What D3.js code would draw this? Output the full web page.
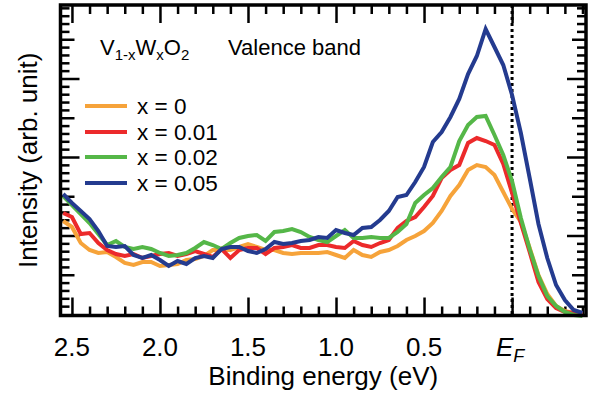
<!DOCTYPE html>
<html>
<head>
<meta charset="utf-8">
<script src="https://cdn.jsdelivr.net/npm/d3@7"></script>
<style>
  body { margin: 0; background: #fff; }
  svg text { font-family: "Liberation Sans", Arial, sans-serif; fill: #000; }
</style>
</head>
<body>
<svg id="chart"></svg>
<script>
// Canvas
const width = 591;
const height = 397;

// Binding energy grid (eV)
const energy = [
  2.55, 2.50, 2.45, 2.40, 2.35, 2.30, 2.25, 2.20, 2.15, 2.10,
  2.05, 2.00, 1.95, 1.90, 1.85, 1.80, 1.75, 1.70, 1.65, 1.60,
  1.55, 1.50, 1.45, 1.40, 1.35, 1.30, 1.25, 1.20, 1.15, 1.10,
  1.05, 1.00, 0.95, 0.90, 0.85, 0.80, 0.75, 0.70, 0.65, 0.60,
  0.55, 0.50, 0.45, 0.40, 0.35, 0.30, 0.25, 0.20, 0.15, 0.10,
  0.05, 0.00, -0.05, -0.10, -0.15, -0.20, -0.25, -0.30, -0.35, -0.40
];

// Intensity (arb. unit) for each composition
const intensityX0 = [
  96, 90, 74, 67, 64, 65, 60, 54, 52, 55,
  55, 51, 52, 53, 57, 58, 61, 67, 67, 67,
  70, 73, 70, 67, 67, 64, 63, 64, 64, 64,
  65, 62, 59, 67, 62, 60, 65, 67, 71, 77,
  81, 86, 94, 106, 121, 132, 147, 152, 150, 142,
  125, 108, 95, 69, 42, 23, 11, 6, 4, 3
];
const intensityX001 = [
  104, 100, 83, 84, 74, 67, 63, 61, 63, 59,
  61, 63, 64, 61, 63, 66, 63, 60, 68, 59,
  67, 69, 69, 63, 69, 70, 72, 69, 69, 72,
  72, 70, 69, 76, 72, 70, 74, 77, 89, 96,
  100, 110, 121, 139, 147, 152, 174, 179, 176, 172,
  153, 124, 94, 65, 35, 18, 9, 5, 4, 4
];
const intensityX002 = [
  121, 112, 103, 94, 83, 72, 76, 70, 68, 70,
  68, 64, 61, 62, 64, 69, 75, 72, 68, 74,
  79, 81, 82, 76, 85, 86, 88, 85, 80, 77,
  75, 81, 87, 79, 79, 80, 79, 79, 85, 93,
  114, 122, 129, 140, 150, 176, 192, 200, 201, 182,
  162, 136, 99, 68, 41, 21, 11, 5, 2, 1
];
const intensityX005 = [
  123, 114, 106, 98, 86, 71, 70, 71, 62, 59,
  62, 57, 51, 56, 53, 59, 61, 59, 68, 70,
  70, 66, 64, 68, 75, 73, 74, 76, 77, 80,
  79, 87, 84, 82, 89, 90, 97, 106, 120, 122,
  135, 150, 175, 185, 200, 218, 243, 261, 288, 270,
  252, 222, 184, 139, 93, 59, 32, 17, 7, 4
];

const seriesLabels = ["x = 0", "x = 0.01", "x = 0.02", "x = 0.05"];
const seriesColors = ["#f6a33a", "#ec2a2b", "#55b748", "#243b8f"];
const seriesValues = [intensityX0, intensityX001, intensityX002, intensityX005];

// Axis ticks
const xMajorTicks = [2.5, 2.0, 1.5, 1.0, 0.5, 0.0];
const xTickLabels = ["2.5", "2.0", "1.5", "1.0", "0.5", "E_F"];
const xMinorTicks = [2.4, 2.3, 2.2, 2.1, 1.9, 1.8, 1.7, 1.6, 1.4, 1.3, 1.2, 1.1,
  0.9, 0.8, 0.7, 0.6, 0.4, 0.3, 0.2, 0.1, -0.1, -0.2, -0.3, -0.4];
const yTickStep = 7.85;
const yTickStart = 3;

// Plot frame
const plotLeft = 60.5, plotRight = 586, plotTop = 5, plotBottom = 315.5;

const svg = d3.select("#chart")
  .attr("width", width)
  .attr("height", height);

const xScale = d3.scaleLinear()
  .domain([2.565, -0.42])
  .range([plotLeft, plotRight]);

const yScale = d3.scaleLinear()
  .domain([0, 313])
  .range([317, 4]);

// y tick values: minor every step, medium every 5, long every 10
const yAll = d3.range(0, 40).map(i => yTickStart + i * yTickStep);
const yMinor = yAll.filter((d, i) => i % 5 !== 0);
const yMedium = yAll.filter((d, i) => i % 5 === 0 && i % 10 !== 0);
const yLong = yAll.filter((d, i) => i % 10 === 0 && i > 0);

function tickGroup(axis, values, len, transform) {
  const g = svg.append("g")
    .attr("transform", transform)
    .call(axis.tickValues(values).tickSize(-len).tickFormat(""));
  g.select(".domain").remove();
  g.selectAll(".tick line").attr("stroke", "#000").attr("stroke-width", 2.5);
}

// x ticks, bottom and top
tickGroup(d3.axisBottom(xScale), xMinorTicks, 9, `translate(0,${plotBottom})`);
tickGroup(d3.axisBottom(xScale), xMajorTicks, 18, `translate(0,${plotBottom})`);
tickGroup(d3.axisTop(xScale), xMinorTicks, 9, `translate(0,${plotTop})`);
tickGroup(d3.axisTop(xScale), xMajorTicks, 18, `translate(0,${plotTop})`);

// y ticks, left and right
tickGroup(d3.axisLeft(yScale), yMinor, 9, `translate(${plotLeft},0)`);
tickGroup(d3.axisLeft(yScale), yMedium, 14, `translate(${plotLeft},0)`);
tickGroup(d3.axisLeft(yScale), yLong, 19, `translate(${plotLeft},0)`);
tickGroup(d3.axisRight(yScale), yMinor, 9, `translate(${plotRight},0)`);
tickGroup(d3.axisRight(yScale), yMedium, 14, `translate(${plotRight},0)`);
tickGroup(d3.axisRight(yScale), yLong, 19, `translate(${plotRight},0)`);

// Fermi level marker
svg.append("line")
  .attr("x1", xScale(0)).attr("x2", xScale(0))
  .attr("y1", plotTop).attr("y2", plotBottom)
  .attr("stroke", "#000")
  .attr("stroke-width", 3)
  .attr("stroke-dasharray", "3,3");

// Spectra
const line = d3.line()
  .x((d, i) => xScale(energy[i]))
  .y(d => yScale(d));

svg.selectAll(".spectrum")
  .data(seriesValues)
  .enter()
  .append("path")
  .attr("class", "spectrum")
  .attr("d", d => line(d))
  .attr("fill", "none")
  .attr("stroke", (d, i) => seriesColors[i])
  .attr("stroke-width", 4)
  .attr("stroke-linejoin", "miter");

// Frame
svg.append("rect")
  .attr("x", plotLeft).attr("y", plotTop)
  .attr("width", plotRight - plotLeft).attr("height", plotBottom - plotTop)
  .attr("fill", "none")
  .attr("stroke", "#000")
  .attr("stroke-width", 3.5);

// x tick labels
const xLabels = svg.selectAll(".xlabel")
  .data(xMajorTicks)
  .enter()
  .append("text")
  .attr("class", "xlabel")
  .attr("x", d => xScale(d))
  .attr("y", 356)
  .attr("text-anchor", "middle")
  .style("font-size", "26px");

xLabels.each(function(d, i) {
  const t = d3.select(this);
  if (xTickLabels[i] === "E_F") {
    t.attr("x", xScale(d) - 2);
    t.append("tspan").style("font-style", "italic").text("E");
    t.append("tspan").style("font-style", "italic").style("font-size", "18px")
      .attr("dy", 6).text("F");
  } else {
    t.text(xTickLabels[i]);
  }
});

// Axis titles
svg.append("text")
  .attr("x", (plotLeft + plotRight) / 2)
  .attr("y", 385)
  .attr("text-anchor", "middle")
  .style("font-size", "26px")
  .text("Binding energy (eV)");

svg.append("text")
  .attr("transform", `translate(37,${(plotTop + plotBottom) / 2}) rotate(-90)`)
  .attr("text-anchor", "middle")
  .style("font-size", "26px")
  .text("Intensity (arb. unit)");

// Sample annotation
const title = svg.append("text")
  .attr("x", 100)
  .attr("y", 55)
  .style("font-size", "22px");
title.append("tspan").text("V");
title.append("tspan").style("font-size", "15px").attr("dy", 5).text("1-x");
title.append("tspan").attr("dy", -5).text("W");
title.append("tspan").style("font-size", "15px").attr("dy", 5).text("x");
title.append("tspan").attr("dy", -5).text("O");
title.append("tspan").style("font-size", "15px").attr("dy", 5).text("2");

svg.append("text")
  .attr("x", 228)
  .attr("y", 55)
  .style("font-size", "22px")
  .text("Valence band");

// Legend
const legendY = [106, 132, 157, 183];
const legend = svg.selectAll(".legend")
  .data(seriesLabels)
  .enter()
  .append("g")
  .attr("class", "legend")
  .attr("transform", (d, i) => `translate(0,${legendY[i]})`);

legend.append("line")
  .attr("x1", 85).attr("x2", 127)
  .attr("stroke", (d, i) => seriesColors[i])
  .attr("stroke-width", 4);

legend.append("text")
  .attr("x", 137)
  .attr("y", 7.5)
  .style("font-size", "22.5px")
  .text(d => d);
</script>
</body>
</html>
